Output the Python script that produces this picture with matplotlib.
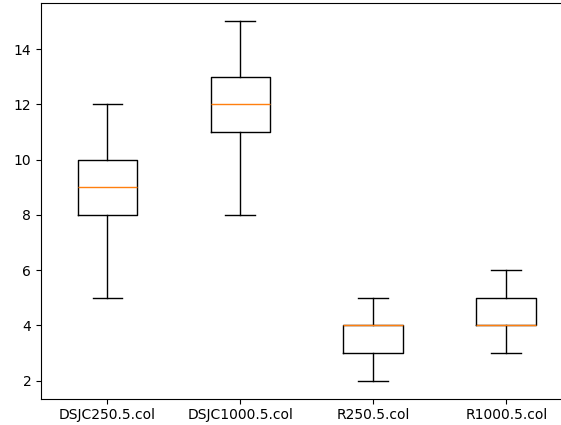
import matplotlib
matplotlib.use("Agg")
import matplotlib.pyplot as plt

labels = ['DSJC250.5.col', 'DSJC1000.5.col', 'R250.5.col', 'R1000.5.col']
whis_low = [5, 8, 2, 3]
q1 = [8, 11, 3, 4]
medians = [9, 12, 4, 4]
q3 = [10, 13, 4, 5]
whis_high = [12, 15, 5, 6]

stats = []
for i in range(len(labels)):
    stats.append({'label': labels[i], 'whislo': whis_low[i], 'q1': q1[i],
                  'med': medians[i], 'q3': q3[i], 'whishi': whis_high[i],
                  'fliers': []})

fig, ax = plt.subplots(figsize=(5.61, 4.25), dpi=100)
ax.bxp(stats, showfliers=False)
# the original image is cropped on the right, so the axes run past the edge
plt.subplots_adjust(left=0.0731, right=1.021, bottom=0.0618, top=0.9918)
plt.savefig('out.png')
